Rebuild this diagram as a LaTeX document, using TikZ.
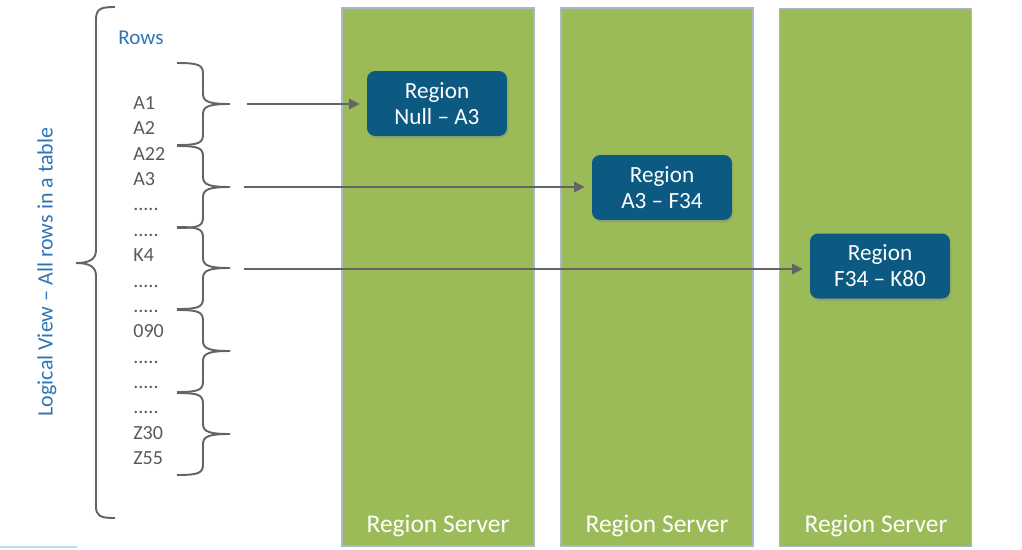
\documentclass[tikz,border=0pt]{standalone}
\usepackage{fontspec}
\setmainfont{Carlito}
\usetikzlibrary{arrows.meta,shadows}
\definecolor{srvgreen}{HTML}{9BBB59}
\definecolor{srvedge}{HTML}{A9B8C6}
\definecolor{regblue}{HTML}{0C5A82}
\definecolor{linegray}{HTML}{646464}
\definecolor{txtgray}{HTML}{595959}
\definecolor{txtblue}{HTML}{2F75B5}
\definecolor{paleblue}{HTML}{C5DCEF}
\newcommand\rowdots{.....}

\begin{document}
\begin{tikzpicture}[x=0.02cm,y=-0.02cm,
    server/.style={draw=srvedge,line width=0.8pt,fill=srvgreen,
      minimum width=3.84cm,minimum height=10.76cm,inner sep=0pt},
    srvlabel/.style={text=white,font=\fontsize{14.5}{16}\selectfont},
    region/.style={fill=regblue,rounded corners=0.16cm,text=white,align=center,
      minimum width=2.8cm,minimum height=1.3cm,inner sep=0pt,
      font=\fontsize{13.2}{14.7}\selectfont,
      drop shadow={opacity=0.3,shadow xshift=0.03cm,shadow yshift=-0.05cm}},
    rowlbl/.style={text=txtgray,anchor=base west,inner sep=0pt,
      font=\fontsize{11.4}{13}\selectfont},
    brace/.style={draw=linegray,line width=1.1pt},
    link/.style={draw=linegray,line width=0.9pt,
      -{Triangle[length=6pt,width=6pt]},shorten >=4pt}]
  \useasboundingbox (0,0) rectangle (1022,549);

  % region servers
  \node[server] (srv1) at (438,277) {};
  \node[server] (srv2) at (657,277) {};
  \node[server] (srv3) at (875.5,277.5) {};
  \foreach \s/\x in {1/438,2/657,3/876}
    \node[srvlabel] (lbl\s) at (\x,526) {Region Server};

  \node[region] (reg1) at (437,103.5) {Region\\Null -- A3};
  \node[region] (reg2) at (662,187.5) {Region\\A3 -- F34};
  \node[region] (reg3) at (880,266) {Region\\F34 -- K80};

  % logical view
  \node[rotate=90,text=txtblue,font=\fontsize{12.5}{14}\selectfont]
    (logical) at (47,272) {Logical View -- All rows in a table};
  \node[text=txtblue,anchor=west,inner sep=0pt,font=\fontsize{12}{14}\selectfont]
    (rows) at (118,38) {Rows};
  \foreach \t [count=\i] in {A1,A2,A22,A3,\rowdots,\rowdots,K4,\rowdots,\rowdots,090,\rowdots,\rowdots,\rowdots,Z30,Z55}
    \node[rowlbl] (row\i) at (133,{109.5+25.36*(\i-1)}) {\t};

  \draw[brace] (115,7) .. controls (100,7) and (96,9) .. (96,20) -- (96,250)
    .. controls (96,259) and (90,263) .. (76,263)
    .. controls (90,263) and (96,267) .. (96,276) -- (96,506)
    .. controls (96,516) and (100,518) .. (115,518);

  \foreach \t in {104,187,268,351,434}
    \draw[brace] (177,{\t-41}) .. controls (199,{\t-41}) and (203,{\t-39}) .. (203,{\t-30})
      -- (203,{\t-10}) .. controls (203,{\t-2}) and (210,\t) .. (230,\t)
      .. controls (210,\t) and (203,{\t+2}) .. (203,{\t+10}) -- (203,{\t+30})
      .. controls (203,{\t+39}) and (199,{\t+41}) .. (177,{\t+41});

  % row ranges to regions
  \coordinate (s1) at (247,104);
  \coordinate (s2) at (244,187);
  \coordinate (s3) at (244,269);
  \draw[link] (s1) -- (s1 -| reg1.west);
  \draw[link] (s2) -- (s2 -| reg2.west);
  \draw[link] (s3) -- (s3 -| reg3.west);

  \draw[paleblue,line width=1.2pt] (0,547) -- (77,547);
\end{tikzpicture}
\end{document}
